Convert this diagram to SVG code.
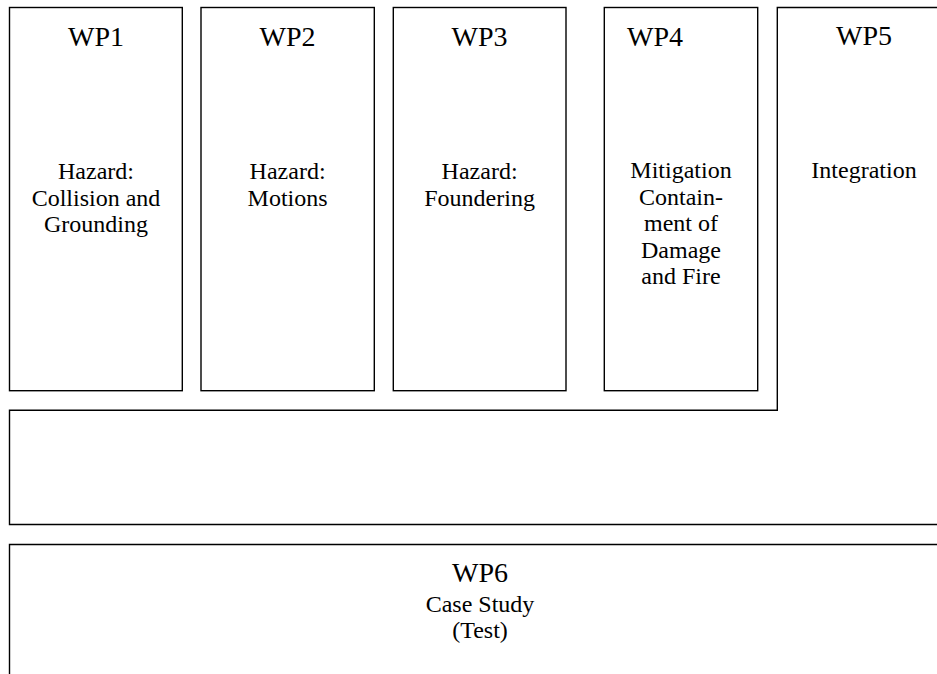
<svg xmlns="http://www.w3.org/2000/svg" width="937" height="674" viewBox="0 0 937 674">
<style>
.box{fill:none;stroke:#000;stroke-width:1.4}
text{font-family:'Liberation Serif','Times New Roman',serif;fill:#000;text-anchor:middle}
.h{font-size:28px}
.b{font-size:24px}
</style>
<rect width="937" height="674" fill="#fff"/>
<g id="wp1">
<rect class="box" x="9.5" y="7.5" width="172.8" height="383.2"/>
<text class="h" x="96" y="46">WP1</text>
<text class="b" x="96" y="179">Hazard:</text>
<text class="b" x="96" y="205.5">Collision and</text>
<text class="b" x="96" y="232">Grounding</text>
</g>
<g id="wp2">
<rect class="box" x="201" y="7.5" width="173.3" height="383.2"/>
<text class="h" x="287.6" y="46">WP2</text>
<text class="b" x="287.6" y="179">Hazard:</text>
<text class="b" x="287.6" y="205.5">Motions</text>
</g>
<g id="wp3">
<rect class="box" x="393.3" y="7.5" width="172.7" height="383.2"/>
<text class="h" x="479.6" y="46">WP3</text>
<text class="b" x="479.6" y="179">Hazard:</text>
<text class="b" x="479.6" y="205.5">Foundering</text>
</g>
<g id="wp4">
<rect class="box" x="604.3" y="7.5" width="153.4" height="383.2"/>
<text class="h" x="655" y="46">WP4</text>
<text class="b" x="681" y="178">Mitigation</text>
<text class="b" x="681" y="204.5">Contain-</text>
<text class="b" x="681" y="231">ment of</text>
<text class="b" x="681" y="257.5">Damage</text>
<text class="b" x="681" y="284">and Fire</text>
</g>
<g id="wp5">
<path class="box" d="M951 7.5 H777.3 V410.3 H9.5 V524.5 H951"/>
<text class="h" x="864" y="45">WP5</text>
<text class="b" x="864" y="178">Integration</text>
</g>
<g id="wp6">
<path class="box" d="M951 544.5 H9.5 V690"/>
<text class="h" x="480" y="582">WP6</text>
<text class="b" x="480" y="612">Case Study</text>
<text class="b" x="480" y="638">(Test)</text>
</g>
<g id="connectors"></g>
</svg>
